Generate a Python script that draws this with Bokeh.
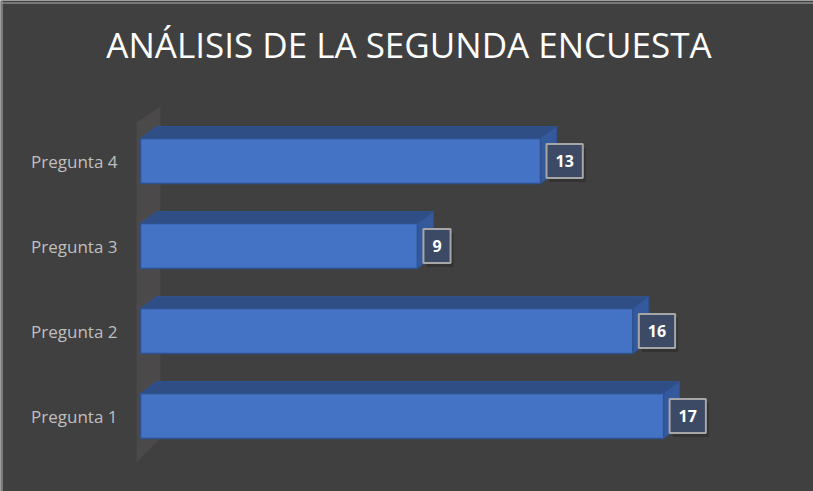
from bokeh.plotting import figure
from bokeh.models import ColumnDataSource, Label, Range1d, Span
from bokeh.embed import file_html
from bokeh.resources import INLINE
from bokeh.core.properties import value

# ---- data ----
categories = ["Pregunta 1", "Pregunta 2", "Pregunta 3", "Pregunta 4"]
values = [17, 16, 9, 13]
title_text = "ANÁLISIS DE LA SEGUNDA ENCUESTA"

# ---- styling ----
BG = "#404040"
FRONT = "#4472C4"
TOP = "#2F4E85"
SIDE = "#34599C"
EDGE = "#2F528F"
WALL = "#4B4949"

W, H = 813, 491
px_per_unit = 30.77
x0_px = 140
unit_y = 85.0
p1_center_px = 415.5

x_start = -x0_px / px_per_unit
x_end = (W - x0_px) / px_per_unit
y_end = 1 + p1_center_px / unit_y
y_start = 1 - (H - p1_center_px) / unit_y

p = figure(width=W, height=H, output_backend="svg", toolbar_location=None,
           x_range=Range1d(x_start, x_end), y_range=Range1d(y_start, y_end),
           min_border=0, min_border_left=0, min_border_right=0,
           min_border_top=0, min_border_bottom=0,
           background_fill_color=BG, border_fill_color=BG, outline_line_color=None,
           x_axis_location=None, y_axis_location=None)
p.grid.visible = False

ys = [i + 1 for i in range(len(categories))]
bh = 22.5 / unit_y          # half bar height
dx = 16 / px_per_unit       # depth x
dy = 12 / unit_y            # depth y

# chart border (top and left)
p.add_layout(Span(location=y_end - 2.5 / unit_y, dimension="width",
                  line_color="#8C8C8C", line_width=1.5))
p.add_layout(Span(location=x_start + 1.5 / px_per_unit, dimension="height",
                  line_color="#8C8C8C", line_width=1.5))

# wall (side panel)
n = len(categories)
wx0 = -4 / px_per_unit
wx1 = 20 / px_per_unit
wall_x = [wx0, wx1, wx1, wx0]
wall_y = [n + 0.5 - 4 / unit_y, n + 0.5 + 12 / unit_y, 0.5 + 20 / unit_y, 0.5 - 4 / unit_y]
p.patch(wall_x, wall_y, fill_color=WALL, line_color=None)

top_xs, top_ys, side_xs, side_ys = [], [], [], []
for v, y in zip(values, ys):
    top_xs.append([0, v, v + dx, dx])
    top_ys.append([y + bh, y + bh, y + bh + dy, y + bh + dy])
    side_xs.append([v, v + dx, v + dx, v])
    side_ys.append([y - bh, y - bh + dy, y + bh + dy, y + bh])

p.patches(top_xs, top_ys, fill_color=TOP, line_color=EDGE, line_width=1)
p.patches(side_xs, side_ys, fill_color=SIDE, line_color=EDGE, line_width=1)

src = ColumnDataSource(dict(y=ys, v=values, cat=categories,
                            lbl=[str(v) for v in values]))
p.hbar(y="y", left=0, right="v", height=2 * bh, source=src,
       fill_color=FRONT, line_color=EDGE, line_width=1.5)

# category labels
p.text(x=0, y="y", text="cat", source=src, x_offset=-23,
       text_align="right", text_baseline="middle",
       text_color="#BFBFBF", text_font=value("Open Sans"), text_font_size="17px")

# value label shadows
p.text(x="v", y="y", text="lbl", source=src, x_offset=9, y_offset=4,
       text_align="left", text_baseline="middle",
       text_color=None, text_font=value("Open Sans"), text_font_style="bold",
       text_font_size="16px",
       background_fill_color="#1E1E1E", background_fill_alpha=0.35,
       border_line_color=None, padding=(9, 11))

# value labels
p.text(x="v", y="y", text="lbl", source=src, x_offset=6,
       text_align="left", text_baseline="middle",
       text_color="white", text_font=value("Open Sans"), text_font_style="bold",
       text_font_size="16px",
       background_fill_color="#3D4A66", border_line_color="#A6A6A6",
       border_line_width=2, padding=(9, 11))

title = Label(x=W / 2 + 2, y=H - 44, x_units="screen", y_units="screen",
              text=title_text, text_align="center", text_baseline="middle",
              text_color="white", text_font="Open Sans", text_font_size="35px")
p.add_layout(title)

open("out.html", "w").write(file_html(p, INLINE))
